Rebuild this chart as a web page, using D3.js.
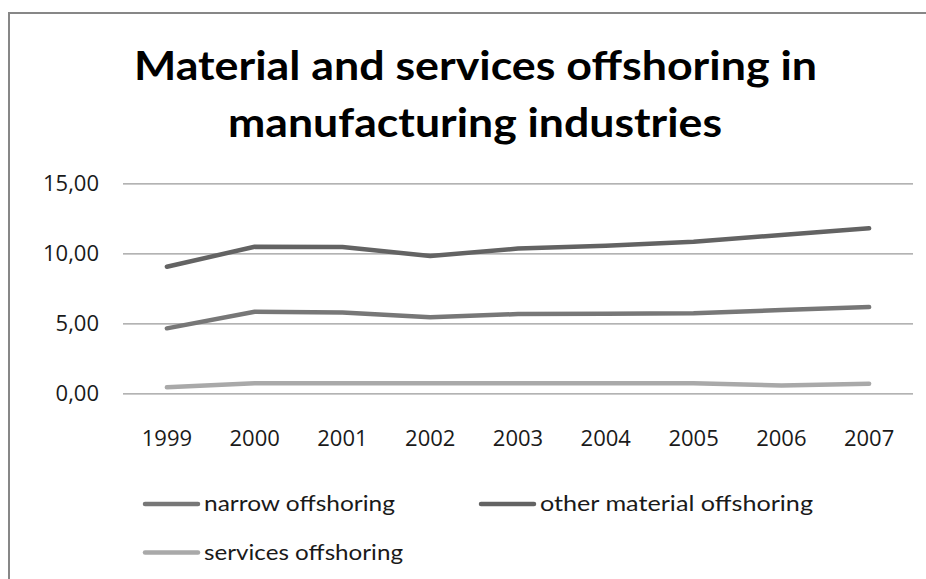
<!DOCTYPE html>
<html>
<head>
<meta charset="utf-8">
<script src="https://cdn.jsdelivr.net/npm/d3@7"></script>
<style>
  html, body { margin: 0; padding: 0; background: #fff; }
  svg { display: block; }
</style>
</head>
<body>
<svg id="chart" width="926" height="579"></svg>
<script>
// Years on the category axis
const years = ["1999", "2000", "2001", "2002", "2003", "2004", "2005", "2006", "2007"];

// Offshoring intensity per series
const narrowOffshoring = [4.64, 5.83, 5.77, 5.43, 5.66, 5.69, 5.71, 5.95, 6.16];
const otherMaterialOffshoring = [9.04, 10.47, 10.45, 9.81, 10.34, 10.54, 10.83, 11.31, 11.79];
const servicesOffshoring = [0.43, 0.71, 0.71, 0.71, 0.71, 0.71, 0.71, 0.56, 0.69];

const seriesNames = ["narrow offshoring", "other material offshoring", "services offshoring"];
const yTicks = [0, 5, 10, 15];
const titleLines = ["Material and services offshoring in", "manufacturing industries"];

const series = [
  { name: seriesNames[0], values: narrowOffshoring, color: "#777777" },
  { name: seriesNames[1], values: otherMaterialOffshoring, color: "#636363" },
  { name: seriesNames[2], values: servicesOffshoring, color: "#a9a9a9" }
];

const svg = d3.select("#chart");

// Chart area frame
svg.append("rect")
  .attr("x", 9).attr("y", 13)
  .attr("width", 940).attr("height", 600)
  .attr("fill", "#fff")
  .attr("stroke", "#878787")
  .attr("stroke-width", 2);

// Title
const titleFont = "Lato, 'Open Sans', sans-serif";
const titleSpec = [
  { text: titleLines[0], x: 134, y: 80, len: 683 },
  { text: titleLines[1], x: 228, y: 137, len: 494 }
];
svg.selectAll("text.title").data(titleSpec).enter().append("text")
  .attr("class", "title")
  .attr("x", d => d.x).attr("y", d => d.y)
  .attr("textLength", d => d.len)
  .attr("lengthAdjust", "spacingAndGlyphs")
  .style("font-family", titleFont)
  .style("font-weight", "bold")
  .style("font-size", "40px")
  .attr("fill", "#000")
  .text(d => d.text);

// Scales
const x = d3.scaleBand().domain(years).range([123, 913]);
const y = d3.scaleLinear().domain([0, 15]).range([393.3, 183.3]);

const fmt = v => d3.format(".2f")(v).replace(".", ",");

// Y axis with gridlines
const yAxis = svg.append("g")
  .attr("transform", "translate(123,0)")
  .call(d3.axisLeft(y).tickValues(yTicks).tickSize(-790).tickPadding(24).tickFormat(fmt));
yAxis.select(".domain").remove();
yAxis.selectAll(".tick line").attr("stroke", "#9a9a9a").attr("stroke-width", 1.2);
yAxis.selectAll(".tick text")
  .attr("fill", "#1a1a1a")
  .style("font-family", "'Open Sans', sans-serif")
  .style("font-size", "22px");

// X axis labels
const xAxis = svg.append("g")
  .attr("transform", "translate(0,393.3)")
  .call(d3.axisBottom(x).tickSize(0).tickPadding(34));
xAxis.select(".domain").remove();
xAxis.selectAll(".tick text")
  .attr("fill", "#1a1a1a")
  .attr("dy", "0")
  .style("font-family", "'Open Sans', sans-serif")
  .style("font-size", "22px");
xAxis.selectAll(".tick text").attr("y", 52.5);

// Lines
const line = d3.line()
  .x((d, i) => x(years[i]) + x.bandwidth() / 2)
  .y(d => y(d));

svg.append("g").selectAll("path")
  .data(series)
  .enter().append("path")
  .attr("d", d => line(d.values))
  .attr("fill", "none")
  .attr("stroke", d => d.color)
  .attr("stroke-width", 4.5)
  .attr("stroke-linecap", "round")
  .attr("stroke-linejoin", "round");

// Legend
const legendSpec = [
  { s: series[0], x: 145, y: 504, len: 191 },
  { s: series[1], x: 481, y: 504, len: 273 },
  { s: series[2], x: 145, y: 552.5, len: 199 }
];
const lg = svg.append("g").selectAll("g").data(legendSpec).enter().append("g");
lg.append("line")
  .attr("x1", d => d.x).attr("x2", d => d.x + 53)
  .attr("y1", d => d.y).attr("y2", d => d.y)
  .attr("stroke", d => d.s.color)
  .attr("stroke-width", 4.5)
  .attr("stroke-linecap", "round");
lg.append("text")
  .attr("x", d => d.x + 59)
  .attr("y", d => d.y + 7)
  .attr("textLength", d => d.len)
  .attr("lengthAdjust", "spacingAndGlyphs")
  .style("font-family", "Lato, 'Open Sans', sans-serif")
  .style("font-size", "21px")
  .attr("fill", "#1a1a1a")
  .text(d => d.s.name);
</script>
</body>
</html>
